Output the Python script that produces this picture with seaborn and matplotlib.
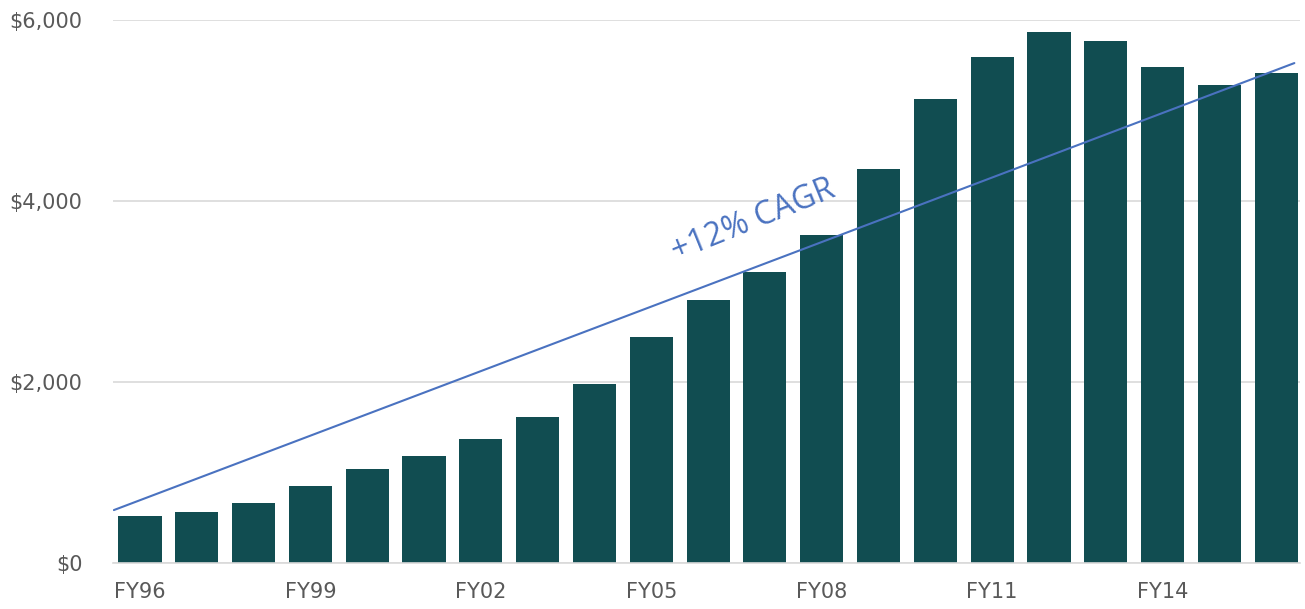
import pandas as pd
import numpy as np
import matplotlib.pyplot as plt
import seaborn as sns
from matplotlib.ticker import FuncFormatter

years = ['FY96', 'FY97', 'FY98', 'FY99', 'FY00', 'FY01', 'FY02', 'FY03', 'FY04', 'FY05', 'FY06',
         'FY07', 'FY08', 'FY09', 'FY10', 'FY11', 'FY12', 'FY13', 'FY14', 'FY15', 'FY16']
values = [520, 565, 665, 850, 1040, 1180, 1370, 1615, 1980, 2500, 2905,
          3215, 3625, 4355, 5125, 5590, 5865, 5770, 5480, 5280, 5415]
labeled_years = ['FY96', 'FY99', 'FY02', 'FY05', 'FY08', 'FY11', 'FY14']

# straight trend line drawn from first to last point (in bar-index units)
trend_x = [-0.46, 20.32]
trend_y = [585, 5525]
trend_label = '+12% CAGR'

df = pd.DataFrame({'year': years, 'value': values})

sns.set_style('white')
plt.rcParams['font.family'] = ['DejaVu Sans']

fig = plt.figure(figsize=(13.05, 6.09), dpi=100)
ax = fig.add_axes([0.0866, 0.0755, 0.9096, 0.8915])

sns.barplot(data=df, x='year', y='value', color='#114d51', width=0.76,
            saturation=1, linewidth=0, ax=ax, zorder=2)
ax.plot(trend_x, trend_y, color='#4a72c0', linewidth=1.5, zorder=3)
ax.text(10.8, 3780, trend_label, rotation=22, color='#4a72c0', fontsize=23,
        ha='center', va='center', family=['Open Sans', 'DejaVu Sans'], zorder=4)

ax.set_xlim(-0.475, 20.42)
ax.set_ylim(0, 6000)
ax.set_yticks([0, 2000, 4000, 6000])
ax.yaxis.set_major_formatter(FuncFormatter(lambda v, p: f'${v:,.0f}'))
ax.set_xticks(range(len(years)))
ax.set_xticklabels([y if y in labeled_years else '' for y in years])
ax.grid(True, axis='y', color='#d9d9d9', linewidth=1.2, zorder=0)
ax.set_axisbelow(True)
for s in ['top', 'right', 'left']:
    ax.spines[s].set_visible(False)
ax.spines['bottom'].set_color('#d9d9d9')
ax.spines['bottom'].set_linewidth(1.2)
ax.tick_params(axis='both', length=0, labelsize=15, colors='#595959')
ax.tick_params(axis='x', pad=14)
ax.tick_params(axis='y', pad=22)
ax.set_xlabel('')
ax.set_ylabel('')

plt.savefig('out.png', dpi=100)
plt.close()
